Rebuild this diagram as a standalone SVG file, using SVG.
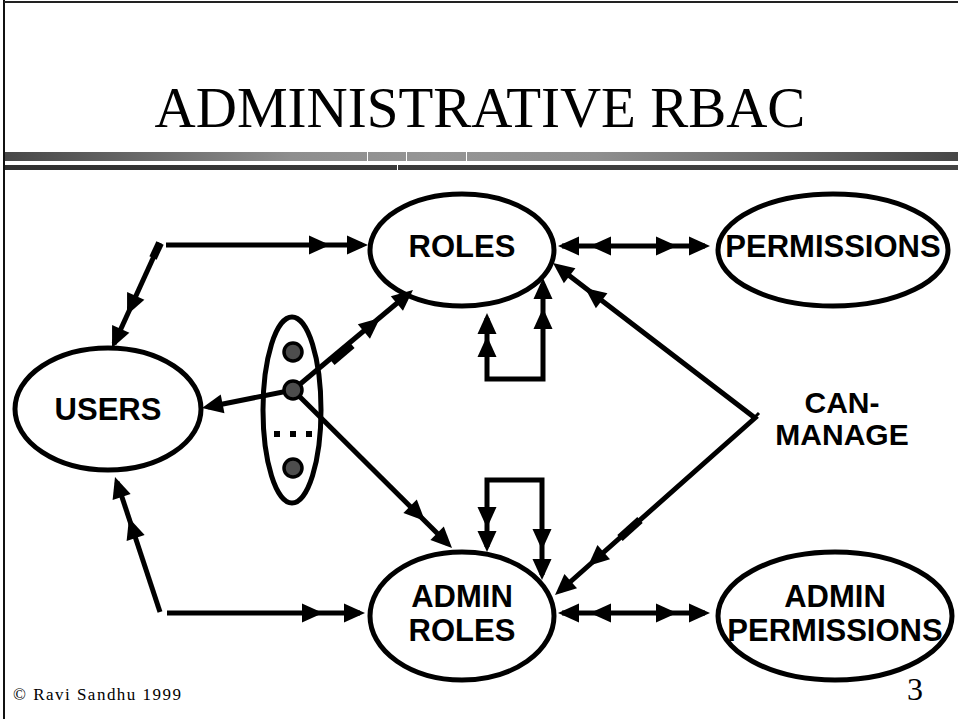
<svg xmlns="http://www.w3.org/2000/svg" xmlns:xlink="http://www.w3.org/1999/xlink" width="958" height="719" viewBox="0 0 958 719">
  <style>
    .node { fill: none; stroke: #000; stroke-width: 5; }
    .lbl { font-family: "Liberation Sans", Arial, sans-serif; font-weight: bold; font-size: 31px; fill: #000; text-anchor: middle; }
    .edge { fill: none; stroke: #000; stroke-width: 5; stroke-linejoin: miter; }
    .thick { fill: none; stroke: #000; stroke-width: 8; }
    .dot { fill: #4d4d4d; stroke: #000; stroke-width: 3.5; }
  </style>
  <defs>
    <!-- arrowhead with its tip at the origin, pointing along +x -->
    <path id="ah" d="M0,0 L-21,-9.5 L-21,9.5 Z" fill="#000"/>
    <linearGradient id="barTop" x1="0" y1="0" x2="1" y2="0">
      <stop offset="0" stop-color="#474747"/>
      <stop offset="0.3" stop-color="#8e8e8e"/>
      <stop offset="0.45" stop-color="#959595"/>
      <stop offset="0.62" stop-color="#8f8f8f"/>
      <stop offset="1" stop-color="#474747"/>
    </linearGradient>
    <linearGradient id="barLow" x1="0" y1="0" x2="1" y2="0">
      <stop offset="0" stop-color="#303030"/>
      <stop offset="0.4" stop-color="#3a3a3a"/>
      <stop offset="1" stop-color="#444444"/>
    </linearGradient>
  </defs>

  <rect width="958" height="719" fill="#fff"/>

  <!-- slide frame -->
  <g id="frame">
    <line x1="4" y1="0" x2="4" y2="719" stroke="#111" stroke-width="2"/>
    <line x1="4" y1="2" x2="958" y2="2" stroke="#222" stroke-width="2"/>
  </g>

  <!-- title and underline bars -->
  <g id="title">
    <text x="480" y="127" font-family="'Liberation Serif', 'Times New Roman', serif" font-size="57" text-anchor="middle" fill="#000">ADMINISTRATIVE RBAC</text>
    <rect x="5" y="152" width="953" height="9" fill="url(#barTop)"/>
    <rect x="5" y="165" width="953" height="5" fill="url(#barLow)"/>
    <rect x="367" y="152" width="1" height="9" fill="#fff"/>
    <rect x="406" y="152" width="1" height="9" fill="#fff"/>
    <rect x="466" y="152" width="1" height="9" fill="#fff"/>
    <rect x="397" y="165" width="1" height="5" fill="#fff"/>
  </g>

  <!-- connectors -->
  <g id="connectors">
    <!-- USERS <-> ROLES (upper) -->
    <line class="edge" x1="160" y1="243" x2="114" y2="344"/>
    <line class="thick" x1="160" y1="243" x2="153" y2="258"/>
    <use xlink:href="#ah" transform="translate(112,348) rotate(114.6)"/>
    <use xlink:href="#ah" transform="translate(127,315) rotate(114.6)"/>
    <line class="edge" x1="166" y1="245" x2="362" y2="245"/>
    <use xlink:href="#ah" transform="translate(368,245)"/>
    <use xlink:href="#ah" transform="translate(330,245)"/>

    <!-- USERS <-> ADMIN ROLES (lower) -->
    <line class="edge" x1="160" y1="612" x2="117" y2="482"/>
    <use xlink:href="#ah" transform="translate(115,477) rotate(-108.4)"/>
    <use xlink:href="#ah" transform="translate(129,518) rotate(-108.4)"/>
    <line class="edge" x1="167" y1="613" x2="360" y2="613"/>
    <use xlink:href="#ah" transform="translate(365,613)"/>
    <use xlink:href="#ah" transform="translate(323,613)"/>

    <!-- session to USERS -->
    <line class="edge" x1="293" y1="390" x2="208" y2="407"/>
    <use xlink:href="#ah" transform="translate(202,408) rotate(168.7)"/>

    <!-- session to ROLES -->
    <line class="edge" x1="293" y1="390" x2="408" y2="294"/>
    <line class="thick" x1="332" y1="362" x2="352" y2="345"/>
    <use xlink:href="#ah" transform="translate(413,290) rotate(-39.8)"/>
    <use xlink:href="#ah" transform="translate(380,318) rotate(-39.8)"/>

    <!-- session to ADMIN ROLES -->
    <line class="edge" x1="293" y1="390" x2="448" y2="544"/>
    <use xlink:href="#ah" transform="translate(452,548) rotate(44.8)"/>
    <use xlink:href="#ah" transform="translate(425,521) rotate(44.8)"/>

    <!-- role hierarchy loop -->
    <path class="edge" d="M487,318 V379 H543 V284"/>
    <use xlink:href="#ah" transform="translate(487,313) rotate(-90)"/>
    <use xlink:href="#ah" transform="translate(487,336) rotate(-90)"/>
    <use xlink:href="#ah" transform="translate(543,278) rotate(-90)"/>
    <use xlink:href="#ah" transform="translate(543,308) rotate(-90)"/>

    <!-- admin role hierarchy loop -->
    <path class="edge" d="M487,547 V480 H542 V575"/>
    <use xlink:href="#ah" transform="translate(487,552) rotate(90)"/>
    <use xlink:href="#ah" transform="translate(487,528) rotate(90)"/>
    <use xlink:href="#ah" transform="translate(542,580) rotate(90)"/>
    <use xlink:href="#ah" transform="translate(542,550) rotate(90)"/>

    <!-- ROLES <-> PERMISSIONS -->
    <line class="edge" x1="562" y1="246" x2="705" y2="246"/>
    <use xlink:href="#ah" transform="translate(558,246) rotate(180)"/>
    <use xlink:href="#ah" transform="translate(590,246) rotate(180)"/>
    <use xlink:href="#ah" transform="translate(677,246)"/>
    <use xlink:href="#ah" transform="translate(710,246)"/>

    <!-- ADMIN ROLES <-> ADMIN PERMISSIONS -->
    <line class="edge" x1="562" y1="613" x2="705" y2="613"/>
    <use xlink:href="#ah" transform="translate(558,613) rotate(180)"/>
    <use xlink:href="#ah" transform="translate(590,613) rotate(180)"/>
    <use xlink:href="#ah" transform="translate(677,613)"/>
    <use xlink:href="#ah" transform="translate(710,613)"/>

    <!-- CAN-MANAGE -->
    <polyline class="edge" points="558,267 755,418 560,591"/>
    <line stroke="#000" stroke-width="3" x1="750" y1="422" x2="759" y2="413"/>
    <line class="thick" x1="640" y1="520" x2="620" y2="538"/>
    <use xlink:href="#ah" transform="translate(553,263) rotate(-142.5)"/>
    <use xlink:href="#ah" transform="translate(585,288) rotate(-142.5)"/>
    <use xlink:href="#ah" transform="translate(555,595) rotate(138.5)"/>
    <use xlink:href="#ah" transform="translate(588,566) rotate(138.5)"/>
  </g>

  <!-- nodes -->
  <g id="users">
    <ellipse class="node" cx="108" cy="409" rx="93" ry="61"/>
    <text class="lbl" x="108" y="420">USERS</text>
  </g>
  <g id="roles">
    <ellipse class="node" cx="462" cy="250" rx="92" ry="56"/>
    <text class="lbl" x="462" y="257">ROLES</text>
  </g>
  <g id="permissions">
    <ellipse class="node" cx="833" cy="250" rx="115" ry="56"/>
    <text class="lbl" x="833" y="257">PERMISSIONS</text>
  </g>
  <g id="admin-roles">
    <ellipse class="node" cx="462" cy="616" rx="92" ry="64"/>
    <text class="lbl" x="462" y="607">ADMIN</text>
    <text class="lbl" x="462" y="641">ROLES</text>
  </g>
  <g id="admin-permissions">
    <ellipse class="node" cx="835" cy="616" rx="117" ry="64"/>
    <text class="lbl" x="835" y="607">ADMIN</text>
    <text class="lbl" x="835" y="641">PERMISSIONS</text>
  </g>
  <g id="sessions">
    <ellipse class="node" cx="292" cy="410" rx="29" ry="93"/>
    <circle class="dot" cx="293" cy="352" r="9"/>
    <circle class="dot" cx="293" cy="390" r="9"/>
    <rect x="274" y="431" width="6" height="6" fill="#000"/>
    <rect x="290" y="431" width="6" height="6" fill="#000"/>
    <rect x="306" y="431" width="6" height="6" fill="#000"/>
    <circle class="dot" cx="293" cy="468" r="9"/>
  </g>
  <g id="can-manage">
    <text class="lbl" x="842" y="413" style="font-size:30px">CAN-</text>
    <text class="lbl" x="842" y="445" style="font-size:30px">MANAGE</text>
  </g>

  <!-- footer -->
  <g id="footer">
    <text x="13" y="700" font-family="'Liberation Serif', 'Times New Roman', serif" font-size="17" textLength="168" lengthAdjust="spacing" fill="#000">© Ravi Sandhu 1999</text>
    <text x="907" y="700" font-family="'Liberation Serif', 'Times New Roman', serif" font-size="32" fill="#000">3</text>
  </g>
</svg>
